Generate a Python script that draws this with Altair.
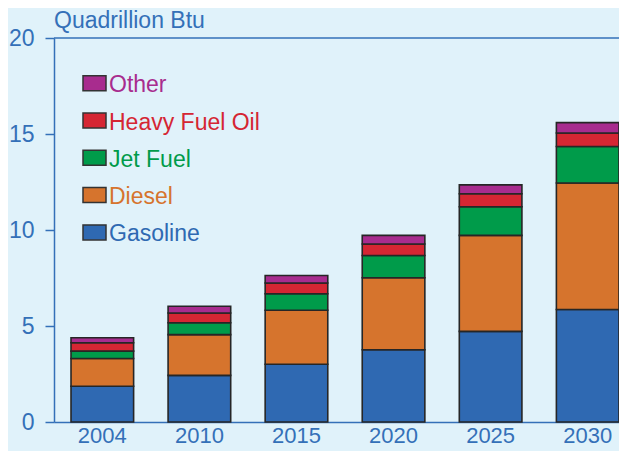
import altair as alt
import pandas as pd

years = ["2004", "2010", "2015", "2020", "2025", "2030"]
fuels = ["Gasoline", "Diesel", "Jet Fuel", "Heavy Fuel Oil", "Other"]
colors = ["#2f69b2", "#d6742d", "#009b4a", "#d52633", "#a82c8e"]
gasoline = [1.86, 2.43, 3.01, 3.76, 4.72, 5.86]
diesel = [1.45, 2.12, 2.81, 3.75, 5.00, 6.59]
jet_fuel = [0.38, 0.62, 0.86, 1.16, 1.49, 1.90]
heavy_fuel_oil = [0.44, 0.51, 0.56, 0.60, 0.68, 0.70]
other = [0.26, 0.35, 0.39, 0.45, 0.46, 0.54]
y_ticks = [0, 5, 10, 15, 20]
unit_label = "Quadrillion Btu"

series = [gasoline, diesel, jet_fuel, heavy_fuel_oil, other]
rows = []
for k, (fuel, vals) in enumerate(zip(fuels, series)):
    for yr, v in zip(years, vals):
        rows.append({"year": yr, "fuel": fuel, "value": v, "ord": k})
df = pd.DataFrame(rows)

BLUE = "#3470b8"
FONT = "Liberation Sans"
FS = 23

color_scale = alt.Scale(domain=fuels, range=colors)

bars = alt.Chart(df).mark_bar(stroke="#262626", strokeWidth=1.6).encode(
    x=alt.X("year:N", sort=years,
            scale=alt.Scale(paddingInner=0.355, paddingOuter=0.0876, align=1),
            axis=alt.Axis(title=None, ticks=False, tickSize=0, labelPadding=3,
                          labelFontSize=22, labelFont=FONT, labelColor=BLUE,
                          domainColor=BLUE, domainWidth=1.5, labelAngle=0)),
    y=alt.Y("value:Q", stack="zero",
            scale=alt.Scale(domain=[0, 20], nice=False),
            axis=alt.Axis(title=None, values=y_ticks, grid=False, tickSize=9,
                          tickColor=BLUE, tickWidth=1.5, labelPadding=11,
                          labelFontSize=FS, labelFont=FONT, labelColor=BLUE,
                          domainColor=BLUE, domainWidth=1.5)),
    color=alt.Color("fuel:N", scale=color_scale, legend=None),
    order=alt.Order("ord:Q"),
)

top_rule = alt.Chart(pd.DataFrame({"v": [y_ticks[-1]]})).mark_rule(
    color=BLUE, strokeWidth=1.5).encode(y="v:Q")

# custom legend (top item = Other)
leg_fuels = fuels[::-1]
leg = pd.DataFrame({"fuel": leg_fuels, "i": list(range(len(leg_fuels)))})
leg_base = alt.Chart(leg).transform_calculate(
    yc="45.2 + datum.i * 37.3",
    y0="datum.yc - 7.5",
    y1="datum.yc + 7.5",
    yt="datum.yc + 9",
)
leg_rect = leg_base.mark_rect(stroke="#333333", strokeWidth=1.5).encode(
    x=alt.value(29), x2=alt.value(52),
    y=alt.Y("y0:Q", scale=None), y2=alt.Y2("y1:Q"),
    color=alt.Color("fuel:N", scale=color_scale, legend=None),
)
leg_text = leg_base.mark_text(align="left", baseline="alphabetic", fontSize=FS,
                              font=FONT).encode(
    x=alt.value(55),
    y=alt.Y("yt:Q", scale=None),
    text="fuel:N",
    color=alt.Color("fuel:N", scale=color_scale, legend=None),
)

title = alt.Chart(pd.DataFrame({"t": [unit_label]})).mark_text(
    align="left", baseline="alphabetic", fontSize=FS, font=FONT, color=BLUE
).encode(x=alt.value(0), y=alt.value(-10), text="t:N")

chart = alt.layer(bars, top_rule, leg_rect, leg_text, title).properties(
    width=565, height=384,
    autosize=alt.AutoSizeParams(type="none"),
    padding={"left": 46, "top": 30, "right": 0, "bottom": 29},
    background="#e0f2fa",
).configure_view(stroke=None)

chart.save("out.html", embed_options={"renderer": "svg", "actions": False})
